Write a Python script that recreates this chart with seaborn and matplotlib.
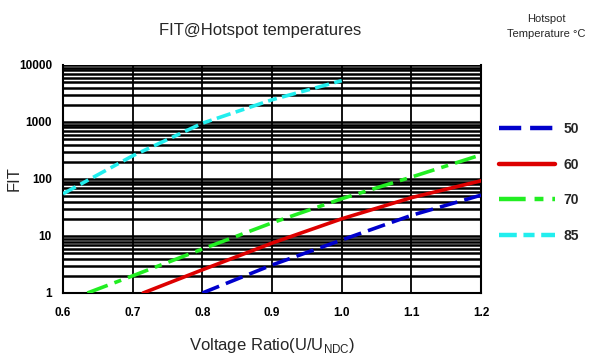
import matplotlib
matplotlib.use("Agg")
import matplotlib.pyplot as plt
from matplotlib.ticker import LogLocator, FixedLocator, NullFormatter
import seaborn as sns
import pandas as pd

# --- data ---
x_50 = [0.8, 0.9, 1.0, 1.1, 1.2]
fit_50 = [1, 3.1, 8.5, 23, 52]

x_60 = [0.715, 0.8, 0.9, 1.0, 1.1, 1.2]
fit_60 = [1, 2.55, 7.5, 20, 47, 93]

x_70 = [0.635, 0.7, 0.8, 0.9, 1.0, 1.1, 1.2]
fit_70 = [1, 2, 5.9, 17, 45, 108, 265]

x_85 = [0.6, 0.7, 0.8, 0.9, 1.0]
fit_85 = [55, 255, 950, 2450, 5300]

labels = ["50", "60", "70", "85"]
colors = ["#0000cc", "#dd0000", "#22ee22", "#22eeee"]
dashes = [(5, 2), (), (6, 2, 2, 2), (4, 1.5, 2.5, 1.5)]

x_ticks = [0.6, 0.7, 0.8, 0.9, 1.0, 1.1, 1.2]
y_ticks = [1, 10, 100, 1000, 10000]

sns.set_style("white")
plt.rcParams["font.family"] = ["Liberation Sans", "DejaVu Sans"]

fig = plt.figure(figsize=(5.91, 3.53), dpi=100)
ax = fig.add_axes([0.1066, 0.17, 0.7074, 0.646])

series = [(x_50, fit_50), (x_60, fit_60), (x_70, fit_70), (x_85, fit_85)]
for (xs, ys), lab, col, d in zip(series, labels, colors, dashes):
    df = pd.DataFrame({"x": xs, "y": ys})
    sns.lineplot(data=df, x="x", y="y", ax=ax, color=col, linewidth=2.6,
                 label=lab, zorder=3)
    line = ax.get_lines()[-1]
    if d:
        line.set_dashes(d)

ax.set_yscale("log")
ax.set_xlim(0.6, 1.2)
ax.set_ylim(1, 10000)
ax.xaxis.set_major_locator(FixedLocator(x_ticks))
ax.set_xticklabels([f"{v:.1f}" for v in x_ticks])
ax.yaxis.set_major_locator(FixedLocator(y_ticks))
ax.set_yticklabels([str(v) for v in y_ticks])
ax.yaxis.set_minor_locator(LogLocator(base=10, subs=range(2, 10)))
ax.yaxis.set_minor_formatter(NullFormatter())

ax.grid(True, which="major", axis="x", color="black", linewidth=1.3)
ax.grid(True, which="both", axis="y", color="black", linewidth=1.8)
ax.set_axisbelow(True)

for side in ["left", "bottom", "right"]:
    ax.spines[side].set_visible(True)
    ax.spines[side].set_color("black")
    ax.spines[side].set_linewidth(1.5)
ax.spines["top"].set_visible(False)

ax.tick_params(axis="both", which="major", direction="out", length=4, width=1.2,
               colors="black", labelsize=8.5, pad=4)
ax.tick_params(axis="y", which="minor", length=0)
ax.tick_params(axis="x", pad=6)
for t in ax.get_xticklabels() + ax.get_yticklabels():
    t.set_fontweight("bold")

ax.set_xlabel(r"Voltage Ratio(U/U$_{\mathregular{NDC}}$)", fontsize=12, labelpad=12)
ax.set_ylabel("FIT", fontsize=12)
ax.yaxis.set_label_coords(-0.1, 0.5)

fig.text(0.44, 0.915, "FIT@Hotspot temperatures", fontsize=12, ha="center", va="center")
fig.text(0.925, 0.925, "Hotspot\nTemperature °C", fontsize=8, ha="center", va="center",
         linespacing=1.6)

leg = ax.legend(loc="upper left", bbox_to_anchor=(0.845, 0.654), bbox_transform=fig.transFigure,
                frameon=False, borderpad=0, borderaxespad=0, handlelength=4.0,
                handletextpad=0.6, labelspacing=1.55,
                prop={"size": 10, "weight": "bold"})
for h in leg.get_lines():
    h.set_linewidth(3.2)

fig.savefig("out.png", dpi=100)
